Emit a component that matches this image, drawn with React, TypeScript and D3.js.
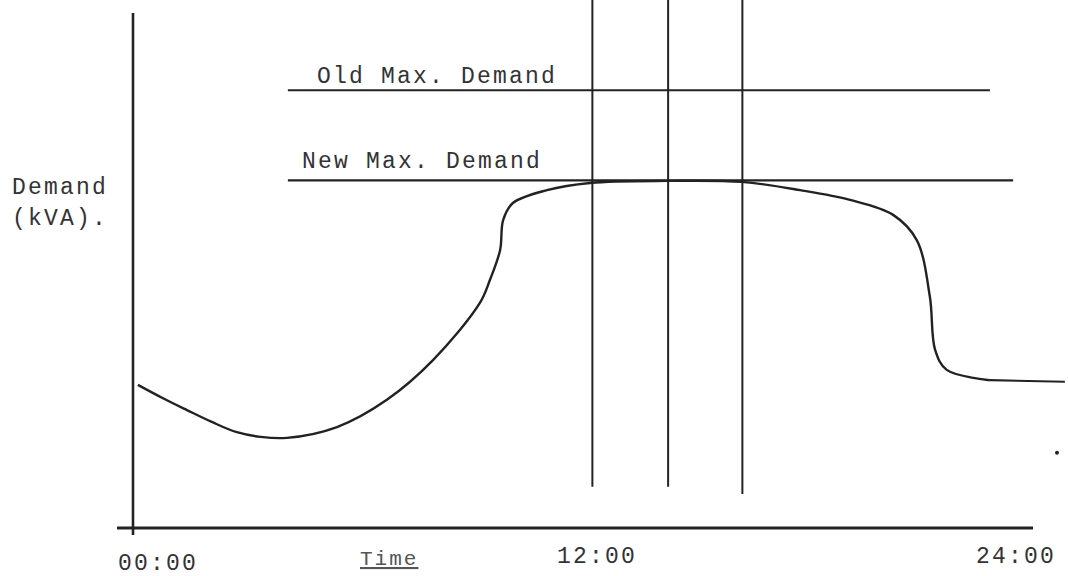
import React from "react";
import * as d3 from "d3";

// Demand curve: [hour, demand (relative kVA units)]
const demandHours = [0.13, 0.8, 1.44, 2.1, 2.77, 3.4, 4.1, 5.44, 6.77, 8.0, 9.25, 9.52, 9.79, 9.87, 10.13, 11.04, 12.19, 14.27, 16.24, 17.79, 19.12, 20.27, 20.9, 21.25, 21.39, 21.7, 22.85];
const demandValues = [27.8, 25.2, 22.9, 20.6, 18.6, 17.7, 17.5, 19.6, 24.9, 32.6, 43.7, 48.2, 54.0, 59.8, 63.1, 65.6, 67.0, 67.4, 67.2, 65.6, 63.7, 60.8, 55.9, 44.9, 34.6, 30.7, 28.7];
const tailHours = [22.85, 24.85];
const tailValues = [28.7, 28.4];

const maxDemandLabels = ["Old Max. Demand", "New Max. Demand"];
const maxDemandValues = [85, 67.5];
const maxDemandStart = [4.13, 4.13];
const maxDemandEnd = [22.85, 23.47];

const markerHours = [12.25, 14.27, 16.25];
const markerBottoms = [8.0, 8.0, 6.6];

const tickLabels = ["00:00", "12:00", "24:00"];
const tickHours = [0, 12, 24];

const W = 1068;
const H = 576;
const FONT = "'Liberation Mono', 'DejaVu Sans Mono', monospace";
const INK = "#222";
const FS = 23;
const LS = 2.2;

export default function App() {
  const x = d3.scaleLinear().domain([0, 24]).range([133, 1033]);
  const y = d3.scaleLinear().domain([0, 100]).range([528, 13]);

  const pts: [number, number][] = demandHours.map((h, i) => [h, demandValues[i]]);
  const tail: [number, number][] = tailHours.map((h, i) => [h, tailValues[i]]);
  const line = d3
    .line<[number, number]>()
    .x((d) => x(d[0]))
    .y((d) => y(d[1]))
    .curve(d3.curveCatmullRom.alpha(0.5));
  const straight = d3
    .line<[number, number]>()
    .x((d) => x(d[0]))
    .y((d) => y(d[1]));

  const labelDx = [-15, 14, -17];
  const labelAnchor = ["start", "middle", "middle"];
  const labelY = [570, 563, 563];
  const textX = [317, 302];
  const textY = [83, 168];

  return (
    <svg
      width={W}
      height={H}
      style={{ position: "absolute", left: 0, top: 0, background: "#fff" }}
      fontFamily={FONT}
    >
      <rect width={W} height={H} fill="#fff" />
      {/* axes */}
      <line x1={x(0)} x2={x(0)} y1={y(100)} y2={535} stroke={INK} strokeWidth={2.6} />
      <line x1={117} x2={x(24)} y1={y(0)} y2={y(0)} stroke={INK} strokeWidth={3} />

      {/* max demand lines */}
      {maxDemandValues.map((v, i) => (
        <g key={i}>
          <line
            x1={x(maxDemandStart[i])}
            x2={x(maxDemandEnd[i])}
            y1={y(v)}
            y2={y(v)}
            stroke={INK}
            strokeWidth={2.2}
          />
          <text x={textX[i]} y={textY[i]} fontSize={FS} letterSpacing={LS} fill="#333">
            {maxDemandLabels[i]}
          </text>
        </g>
      ))}

      {/* vertical markers */}
      {markerHours.map((h, i) => (
        <line
          key={i}
          x1={x(h)}
          x2={x(h)}
          y1={0}
          y2={y(markerBottoms[i])}
          stroke={INK}
          strokeWidth={2}
        />
      ))}

      {/* demand curve */}
      <path d={line(pts) || ""} fill="none" stroke={INK} strokeWidth={2.4} />
      <path d={straight(tail) || ""} fill="none" stroke={INK} strokeWidth={2.2} />

      {/* stray dot */}
      <circle cx={x(24.64)} cy={y(14.6)} r={2} fill={INK} />

      {/* tick labels */}
      {tickLabels.map((t, i) => (
        <text
          key={t}
          x={x(tickHours[i]) + labelDx[i]}
          y={labelY[i]}
          textAnchor={labelAnchor[i]}
          fontSize={FS}
          letterSpacing={LS}
          fill="#333"
        >
          {t}
        </text>
      ))}

      {/* axis titles */}
      <text x={360} y={565} fontSize={21} letterSpacing={2} fill="#555" textDecoration="underline">
        Time
      </text>
      <text x={12} y={194} fontSize={FS} letterSpacing={LS} fill="#333">
        Demand
      </text>
      <text x={12} y={225} fontSize={FS} letterSpacing={LS} fill="#333">
        (kVA).
      </text>
    </svg>
  );
}
